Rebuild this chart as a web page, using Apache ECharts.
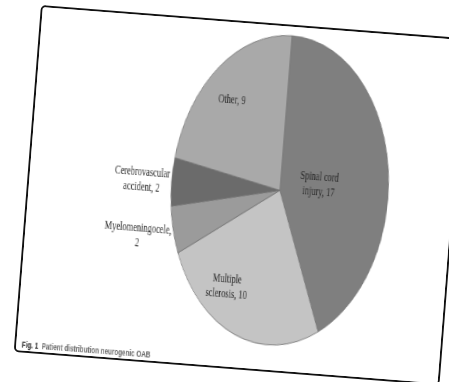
<!DOCTYPE html>
<html>
<head>
<meta charset="utf-8">
<script src="https://cdn.jsdelivr.net/npm/echarts@6/dist/echarts.min.js"></script>
<style>
  html, body { margin: 0; padding: 0; background: #fff; width: 449px; height: 382px; overflow: hidden; }
  #frame {
    position: absolute; left: 41px; top: 5px; width: 427px; height: 348px;
    box-sizing: border-box; border: 2px solid #111; border-radius: 5px;
    transform-origin: 0 0; transform: rotate(4.5deg); background: #fff; overflow: hidden;
  }
  #chart {
    position: absolute; left: 0; top: 0; width: 604px; height: 344px;
    transform-origin: 0 0; transform: scaleX(0.7);
  }
</style>
</head>
<body>
<div id="frame"><div id="chart"></div></div>
<script>
// Data
const categories = ['Spinal cord injury', 'Multiple sclerosis', 'Myelomeningocele', 'Cerebrovascular accident', 'Other'];
const patients = [17, 10, 2, 2, 9];
const sliceColors = ['#7f7f7f', '#c4c4c4', '#9b9b9b', '#6b6b6b', '#a9a9a9'];
const captionBold = 'Fig. 1';
const captionText = 'Patient distribution neurogenic OAB';

// label offsets (style only)
const labelOffsets = [[-23, 10], [-40, 24], [-121, 31], [-117, 0], [-26, -25]];

function wrap(text, maxChars) {
  const words = text.split(' ');
  const lines = [];
  let cur = '';
  words.forEach(w => {
    if (cur === '') cur = w;
    else if ((cur + ' ' + w).length <= maxChars) cur += ' ' + w;
    else { lines.push(cur); cur = w; }
  });
  if (cur) lines.push(cur);
  return lines.join('\n');
}

const chart = echarts.init(document.getElementById('chart'), null, { renderer: 'canvas' });
chart.setOption({
  animation: false,
  backgroundColor: '#fff',
  title: {
    left: 3, top: 325,
    text: '{b|' + captionBold + '} {n|' + captionText + '}',
    textStyle: {
      rich: {
        b: { fontFamily: 'Liberation Sans', fontWeight: 'bold', fontSize: 9, color: '#222' },
        n: { fontFamily: 'Liberation Sans', fontSize: 9, color: '#666' }
      }
    }
  },
  series: [{
    type: 'pie',
    center: [358, 164],
    radius: [0, 155],
    startAngle: 90,
    clockwise: true,
    avoidLabelOverlap: false,
    itemStyle: { borderColor: '#707070', borderWidth: 0.8 },
    label: {
      show: true,
      position: 'inside',
      fontFamily: 'Liberation Serif',
      fontSize: 12,
      lineHeight: 15,
      color: '#262626',
      align: 'center',
      formatter: p => wrap(p.name + ', ' + p.value, 13)
    },
    labelLine: { show: false },
    data: categories.map((c, i) => ({
      name: c,
      value: patients[i],
      itemStyle: { color: sliceColors[i] },
      label: { offset: labelOffsets[i] }
    }))
  }]
});
</script>
</body>
</html>
